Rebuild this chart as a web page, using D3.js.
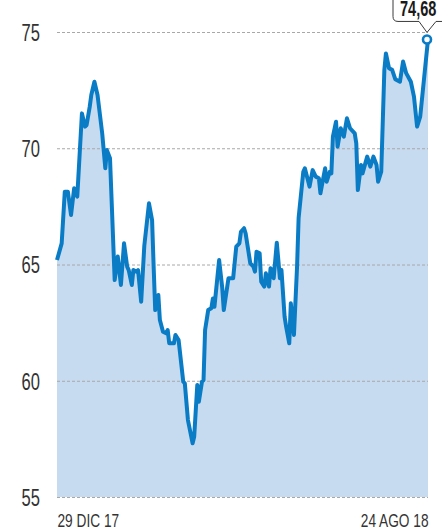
<!DOCTYPE html>
<html>
<head>
<meta charset="utf-8">
<script src="https://cdn.jsdelivr.net/npm/d3@7"></script>
<style>
  html, body { margin: 0; padding: 0; background: #fff; }
  svg { display: block; }
  .axis text { font-family: "Liberation Sans Narrow", "Arial Narrow", "Liberation Sans", sans-serif; fill: #333; }
</style>
</head>
<body>
<div id="chart"></div>
<script>
// days since 29 Dec 2017 and closing values
const days = [0, 3, 5, 7, 9, 11, 13, 16, 18, 19, 21, 22, 24, 26, 29, 31, 32, 34, 37, 39,
  41, 43, 45, 46, 48, 49, 51, 52, 54, 56, 59, 61, 62, 63, 65, 66, 68, 70, 71, 72,
  75, 76, 78, 81, 82, 84, 87, 88, 90, 91, 93, 94, 95, 97, 99, 100, 101, 104, 106, 107,
  110, 113, 115, 117, 118, 120, 121, 124, 126, 127, 128, 130, 131, 133, 134, 136, 137, 139, 141, 143,
  144, 146, 147, 149, 150, 152, 154, 155, 158, 159, 162, 164, 166, 168, 169, 172, 173, 175, 176, 177,
  179, 180, 182, 184, 186, 188, 191, 192, 193, 195, 196, 199, 201, 203, 205, 206, 208, 210, 211, 213,
  215, 217, 220, 222, 224, 227, 229, 231, 233, 238];

const values = [65.19, 65.91, 68.13, 68.13, 67.13, 68.28, 67.92, 71.50, 70.93, 71.0, 71.79, 72.29, 72.86, 72.29, 70.64, 69.14, 69.92, 69.57, 64.33, 65.34,
  64.12, 65.91, 64.91, 64.76, 64.12, 64.76, 64.69, 64.76, 63.40, 65.8, 67.63, 66.91, 64.91, 63.04, 63.69, 62.61, 62.11, 62.04, 62.18, 61.61,
  61.61, 61.97, 61.75, 59.96, 59.89, 58.31, 57.31, 57.59, 59.82, 59.10, 59.96, 60.03, 62.18, 63.04, 63.12, 63.54, 63.18, 65.19, 64.0, 63.04,
  64.41, 64.41, 65.77, 65.91, 66.41, 66.56, 66.34, 65.05, 64.91, 64.69, 65.55, 65.48, 64.26, 64.05, 64.62, 64.05, 64.84, 64.41, 65.94, 64.41,
  64.76, 62.76, 62.33, 61.61, 63.33, 61.97, 64.91, 67.0, 68.99, 69.14, 68.35, 69.06, 68.78, 68.71, 68.06, 69.14, 68.56, 68.99, 68.92, 70.50,
  71.14, 70.07, 70.86, 70.50, 71.29, 70.86, 70.64, 70.21, 68.20, 69.28, 68.92, 69.64, 69.21, 69.64, 69.28, 68.56, 68.99, 73.37, 74.08, 73.44,
  73.37, 72.97, 72.86, 73.73, 73.23, 72.86, 72.22, 70.93, 71.36, 74.68];

const yTicks = [55, 60, 65, 70, 75];
const xTickLabels = ['29 DIC 17', '24 AGO 18'];

const W = 442, H = 532;
const margin = { top: 32, right: 14, bottom: 35, left: 57 };
const innerW = W - margin.left - margin.right;
const innerH = H - margin.top - margin.bottom;
const LINE = '#0a7cc6';
const FILL = '#c6dbf0';

// no condensed face installed, so squeeze glyphs horizontally
function condense(sel, factor) {
  sel.each(function () {
    const w = this.getComputedTextLength();
    d3.select(this)
      .attr('textLength', w * factor)
      .attr('lengthAdjust', 'spacingAndGlyphs');
  });
}

const start = new Date(2017, 11, 29);
const end = new Date(2018, 7, 24);
const data = days.map((d, i) => ({ date: d3.timeDay.offset(start, d), value: values[i] }));

const x = d3.scaleTime().domain([start, end]).range([0, innerW]);
const y = d3.scaleLinear().domain([55, 75]).range([innerH, 0]);

const svg = d3.select('#chart').append('svg')
  .attr('width', W)
  .attr('height', H);

const g = svg.append('g')
  .attr('transform', `translate(${margin.left},${margin.top})`);

// area under the line
g.append('path')
  .datum(data)
  .attr('fill', FILL)
  .attr('d', d3.area().x((d) => x(d.date)).y0(innerH).y1((d) => y(d.value)));

// grid + y labels
const yAxis = g.append('g')
  .attr('class', 'axis')
  .call(d3.axisLeft(y).tickValues(yTicks).tickSize(-innerW).tickPadding(17).tickFormat(d3.format('d')));
yAxis.select('.domain').remove();
yAxis.selectAll('line')
  .attr('stroke', '#a8a8a8')
  .attr('stroke-width', 1)
  .attr('stroke-dasharray', '3,2');
yAxis.selectAll('text')
  .attr('font-size', '23px')
  .attr('dy', '0.36em')
  .call(condense, 0.72);

// x labels
const xAxis = g.append('g')
  .attr('class', 'axis')
  .attr('transform', `translate(0,${innerH})`)
  .call(d3.axisBottom(x).tickValues([start, end]).tickSize(0).tickPadding(17)
    .tickFormat((d, i) => xTickLabels[i]));
xAxis.select('.domain').remove();
xAxis.selectAll('text')
  .attr('font-size', '19px')
  .attr('text-anchor', (d, i) => (i === 0 ? 'start' : 'end'))
  .call(condense, 0.72);

// line
g.append('path')
  .datum(data)
  .attr('fill', 'none')
  .attr('stroke', LINE)
  .attr('stroke-width', 4)
  .attr('stroke-linejoin', 'round')
  .attr('d', d3.line().x((d) => x(d.date)).y((d) => y(d.value)));

// last value marker + callout
const last = data[data.length - 1];
const cx = x(last.date) - 1;
const cy = y(last.value);

g.append('circle')
  .attr('cx', cx).attr('cy', cy).attr('r', 4)
  .attr('fill', '#fff')
  .attr('stroke', LINE)
  .attr('stroke-width', 2.6);

const apexY = cy - 7;
const boxB = apexY - 11;
const callout = g.append('g');
callout.append('path')
  .attr('fill', '#fff')
  .attr('stroke', '#3a3a3a')
  .attr('stroke-width', 1)
  .attr('d', `M${cx + 30},${boxB} L${cx + 9},${boxB} L${cx},${apexY} L${cx - 8},${boxB}`
    + ` L${cx - 29},${boxB} Q${cx - 34},${boxB} ${cx - 34},${boxB - 5} L${cx - 34},${-margin.top - 10}`);
callout.append('text')
  .attr('x', cx - 27)
  .attr('y', boxB - 5)
  .attr('font-family', '"Liberation Sans Narrow", "Arial Narrow", "Liberation Sans", sans-serif')
  .attr('font-weight', 'bold')
  .attr('font-size', '22px')
  .attr('fill', '#1a1a1a')
  .text(d3.format('.2f')(last.value).replace('.', ','))
  .call(condense, 0.66);
</script>
</body>
</html>
